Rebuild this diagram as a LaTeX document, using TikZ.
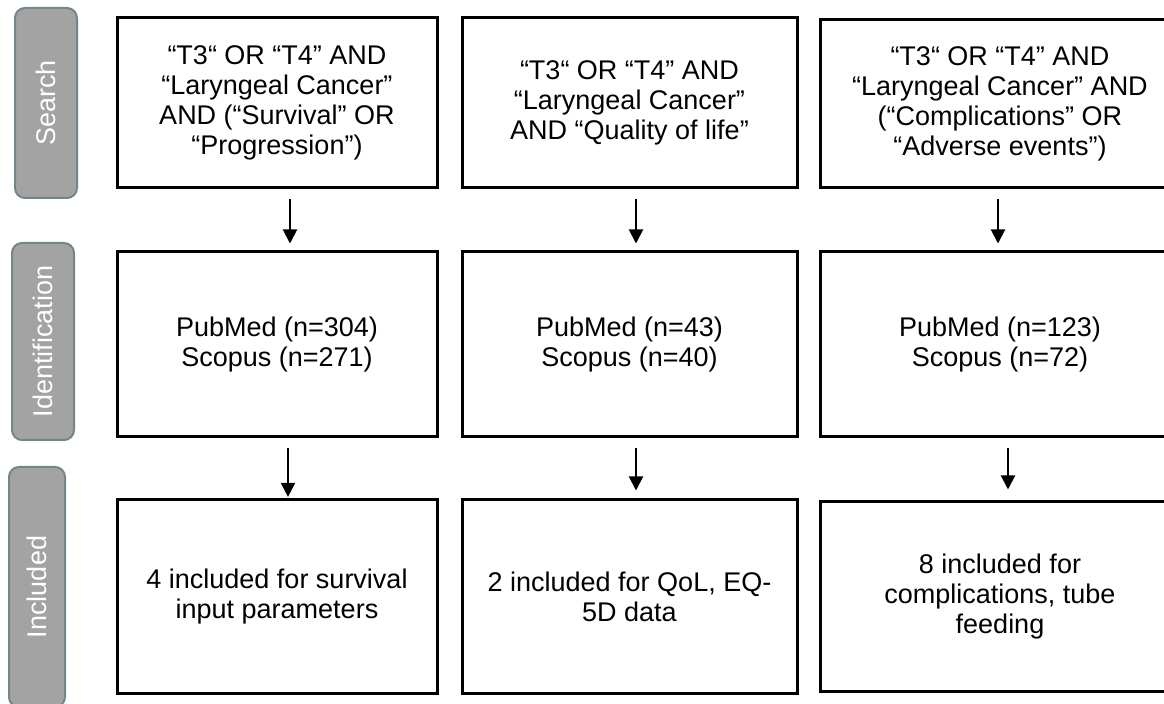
\documentclass[tikz,border=0pt]{standalone}
\usepackage{fontspec}
\setmainfont{Liberation Sans}
\usetikzlibrary{positioning,arrows.meta}
\usepackage{xcolor}

\definecolor{stagefill}{HTML}{A3A3A3}
\definecolor{stageline}{HTML}{74868C}

\begin{document}
\begin{tikzpicture}[
    x=0.5pt,y=-0.5pt,
    query/.style={draw,line width=1.5pt,fill=white,align=center,inner sep=0pt,font=\fontsize{13.5}{15}\selectfont},
    stage/.style={draw=stageline,fill=stagefill,line width=1pt,rounded corners=5pt,rotate=90,text=white,font=\fontsize{13.5}{15}\selectfont},
    arrow/.style={-{Triangle[length=7pt,width=7pt]},line width=1pt,shorten <=5pt,shorten >=3.5pt},
]
\useasboundingbox[fill=white] (0,0) rectangle (1164,704);

% Stage labels down the left side
\node[stage,minimum width=95pt,minimum height=31pt]  (search) at (46,103)   {Search};
\node[stage,minimum width=98.5pt,minimum height=31pt] (ident) at (43,341.5) {Identification};
\node[stage,minimum width=120pt,minimum height=28pt] (incl)  at (37,587)   {Included};

% Search strings
\node[query,minimum width=160pt,minimum height=85pt]   (srch1) at (277,103)  {“T3“ OR “T4” AND\\“Laryngeal Cancer”\\AND (“Survival” OR\\“Progression”)};
\node[query,minimum width=167.5pt,minimum height=85pt] (srch2) at (629.5,103) {“T3“ OR “T4” AND\\“Laryngeal Cancer”\\AND “Quality of life”};
\node[query,minimum width=180pt,minimum height=84pt]   (srch3) at (1000,104) {“T3“ OR “T4” AND\\“Laryngeal Cancer” AND\\(“Complications” OR\\“Adverse events”)};

% Hits per database
\node[query,minimum width=160pt,minimum height=92.5pt]   (hits1) at (277,344.5)   {PubMed (n=304)\\Scopus (n=271)};
\node[query,minimum width=167.5pt,minimum height=92.5pt] (hits2) at (629.5,344.5) {PubMed (n=43)\\Scopus (n=40)};
\node[query,minimum width=180pt,minimum height=92.5pt]   (hits3) at (1000,344.5)  {PubMed (n=123)\\Scopus (n=72)};

% Studies kept
\node[query,minimum width=160pt,minimum height=97pt]   (keep1) at (277,597)   {4 included for survival\\input parameters};
\node[query,minimum width=167.5pt,minimum height=97pt] (keep2) at (629.5,597) {2 included for QoL, EQ-\\5D data};
\node[query,minimum width=180pt,minimum height=95pt]   (keep3) at (1000,597)  {8 included for\\complications, tube\\feeding};

\draw[arrow] ([xshift=6.5pt]srch1.south) -- ([xshift=6.5pt]hits1.north);
\draw[arrow] ([xshift=3.25pt]srch2.south) -- ([xshift=3.25pt]hits2.north);
\draw[arrow] ([xshift=-1pt]srch3.south) -- ([xshift=-1pt]hits3.north);
\draw[arrow,shorten >=0.8pt] ([xshift=5.5pt]hits1.south) -- ([xshift=5.5pt]keep1.north);
\draw[arrow,shorten >=4pt] ([xshift=3.25pt]hits2.south) -- ([xshift=3.25pt]keep2.north);
\draw[arrow,shorten >=5.5pt] ([xshift=4pt]hits3.south) -- ([xshift=4pt]keep3.north);
\end{tikzpicture}
\end{document}
